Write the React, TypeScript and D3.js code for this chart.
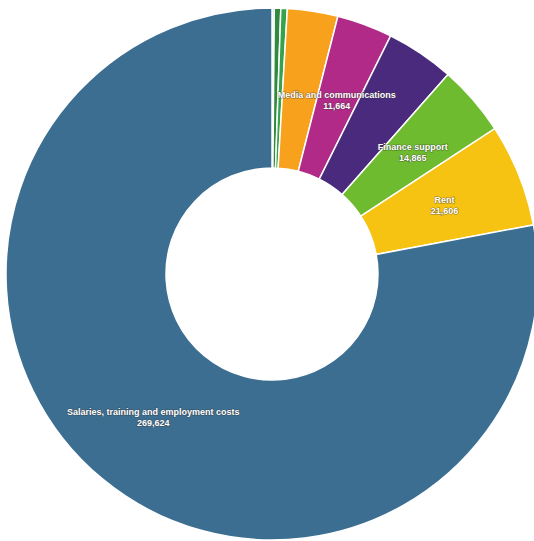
import React from "react";
import * as d3 from "d3";

const categories = [
  "Other costs",
  "IT and equipment",
  "Travel",
  "Training and events",
  "Media and communications",
  "Professional services",
  "Finance support",
  "Rent",
  "Salaries, training and employment costs",
];
const values = [480, 1350, 1350, 10600, 11664, 14350, 14865, 21606, 269624];
const colors = ["#9fd3cf", "#2f8a3e", "#36a34c", "#f7a11c", "#b12a88", "#4a2a7c", "#6fbb2f", "#f6c313", "#3c6e91"];
const showLabel = [false, false, false, false, true, false, true, true, true];

const W = 534;
const H = 541;
const cx = 272;
const cy = 274;
const R = 266;
const r = 106;

export default function App() {
  const data = categories.map((c, i) => ({ name: c, value: values[i], color: colors[i], label: showLabel[i] }));
  const pie = d3.pie<any>().sort(null).value((d) => d.value);
  const arcs = pie(data);
  const arc = d3.arc<any>().innerRadius(r).outerRadius(R);
  const fmt = d3.format(",");
  return (
    <svg width={W} height={H} style={{ position: "absolute", left: 0, top: 0, background: "#fff" }}>
      <g transform={`translate(${cx},${cy})`}>
        {arcs.map((a, i) => (
          <path key={i} d={arc(a) as string} fill={a.data.color} stroke="#ffffff" strokeWidth={1.5} />
        ))}
        {arcs.map((a, i) => {
          if (!a.data.label) return null;
          const [x, y] = arc.centroid(a);
          return (
            <text
              key={"t" + i}
              x={x}
              y={y}
              textAnchor="middle"
              fontFamily="'Liberation Sans', Arial, sans-serif"
              fontWeight="bold"
              fontSize={9}
              fill="#ffffff"
              stroke="#333333"
              strokeWidth={1.2}
              strokeOpacity={0.5}
              paintOrder="stroke"
            >
              <tspan x={x} dy={-2}>{a.data.name}</tspan>
              <tspan x={x} dy={11}>{fmt(a.data.value)}</tspan>
            </text>
          );
        })}
      </g>
    </svg>
  );
}
